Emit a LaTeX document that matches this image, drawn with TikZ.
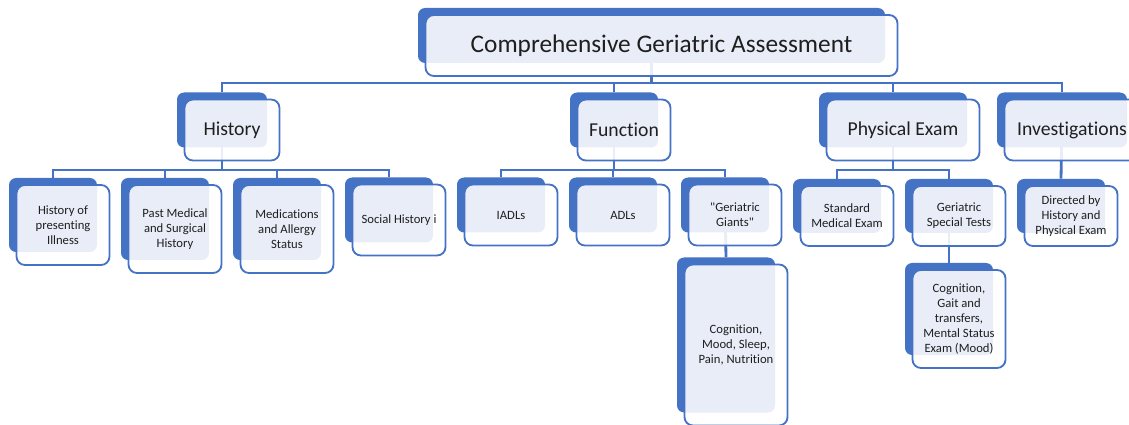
\documentclass[tikz,border=0pt]{standalone}
\usepackage{fontspec}
\setmainfont[Ligatures=NoCommon]{Carlito}
\usetikzlibrary{backgrounds}
\definecolor{cgablue}{HTML}{4472C4}
\tikzset{
    backbox/.style={fill=cgablue, rounded corners=5pt, inner sep=0pt},
    frontbox/.style={draw=cgablue, line width=1.3pt, fill=white, fill opacity=0.88,
        text opacity=1, text=black!88, rounded corners=6pt, align=center, inner sep=0pt},
    link/.style={draw=cgablue, line width=2pt},
    % one unit is one pixel of the 1129 x 425 layout
    pxgrid/.style={x=0.025cm, y=-0.025cm},
}

\begin{document}
\begin{tikzpicture}[pxgrid]
    \useasboundingbox (0,0) rectangle (1129,425);

    % title
    \node[backbox, minimum width=467*0.025cm, minimum height=55*0.025cm] (cga) at (651.5,35.5) {};
    \node[frontbox, font=\fontsize{18}{22}\selectfont, minimum width=472*0.025cm,
        minimum height=61*0.025cm] (cga-f) at ([shift={(10,10)}]cga.center) {Comprehensive Geriatric Assessment};

    % first level
    \foreach \nm/\cx/\cy/\bw/\bh/\txt in {
        hist/222/120/90/55/History,
        func/614/120/88/55/Function,
        phys/893/120/148/55/Physical Exam,
        inv/1062/120/130/55/Investigations}
    {
        \node[backbox, minimum width=\bw*0.025cm, minimum height=\bh*0.025cm] (\nm) at (\cx,\cy) {};
        \node[frontbox, font=\fontsize{14}{17}\selectfont, minimum width=(\bw+5)*0.025cm,
            minimum height=(\bh+6)*0.025cm] (\nm-f) at ([shift={(10,10)}]\nm.center) {\txt};
    }

    % second and third level
    \foreach \nm/\cx/\cy/\bw/\bh/\txt in {
        hpi/53/215/88/74/{History of\\presenting\\Illness},
        pmsh/165/219/88/82/{Past Medical\\and Surgical\\History},
        meds/277/219/88/82/{Medications\\and Allergy\\Status},
        soc/389/210/88/65/{Social History i},
        iadl/501/205/88/55/IADLs,
        adl/613/205/88/55/ADLs,
        giant/725/205/88/55/{\textquotedbl Geriatric\\Giants\textquotedbl},
        std/837/206/88/54/{Standard\\Medical Exam},
        gst/949/206/88/54/{Geriatric\\Special Tests},
        dir/1061/206/88/54/{Directed by\\History and\\Physical Exam},
        cogm/726/335/98/155/{Cognition,\\Mood, Sleep,\\Pain, Nutrition},
        cogg/949/309/88/92/{Cognition,\\Gait and\\transfers,\\Mental Status\\Exam (Mood)}}
    {
        \node[backbox, minimum width=\bw*0.025cm, minimum height=\bh*0.025cm] (\nm) at (\cx,\cy) {};
        \node[frontbox, font=\fontsize{9}{10.8}\selectfont, minimum width=(\bw+5)*0.025cm,
            minimum height=(\bh+6)*0.025cm] (\nm-f) at ([shift={(10,10)}]\nm.center) {\txt};
    }

    \coordinate (bar0) at (0,83);
    \coordinate (bar1) at (0,170);

    \begin{scope}[on background layer]
        \draw[link] (cga.center) -- (cga.center |- bar0);
        \draw[link] (hist.north) |- (bar0 -| inv) -- (inv.north);
        \foreach \c in {hist,func,phys}
            \draw[link] (\c.center) -- (\c |- bar1);
        \draw[link] (func.north) -- (func |- bar0);
        \draw[link] (phys.north) -- (phys |- bar0);

        \draw[link] (hpi.north) |- (bar1 -| soc) -- (soc.north);
        \draw[link] (pmsh.north) -- (pmsh |- bar1);
        \draw[link] (meds.north) -- (meds |- bar1);

        \draw[link] (iadl.north) |- (bar1 -| giant) -- (giant.north);
        \draw[link] (adl.north) -- (adl |- bar1);

        \draw[link] (std.north) |- (bar1 -| gst) -- (gst.north);
        \draw[link] (inv.center) -- (dir.north);

        \draw[link] (giant.center) -- (cogm.north);
        \draw[link] (gst.center) -- (cogg.north);
    \end{scope}
\end{tikzpicture}
\end{document}
